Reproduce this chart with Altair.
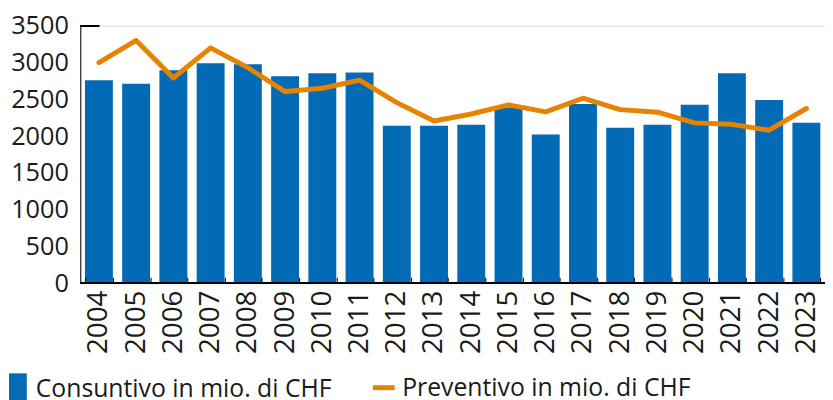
import altair as alt
import pandas as pd

anni = ["2004", "2005", "2006", "2007", "2008", "2009", "2010", "2011", "2012", "2013",
        "2014", "2015", "2016", "2017", "2018", "2019", "2020", "2021", "2022", "2023"]
consuntivo = [2760, 2710, 2895, 2990, 2975, 2815, 2855, 2865, 2140, 2140,
              2155, 2390, 2020, 2435, 2115, 2155, 2425, 2855, 2490, 2180]
preventivo = [3000, 3300, 2790, 3200, 2930, 2605, 2650, 2760, 2455, 2205,
              2300, 2425, 2330, 2515, 2360, 2325, 2180, 2160, 2080, 2375]
serie_bar = "Consuntivo in mio. di CHF"
serie_line = "Preventivo in mio. di CHF"
y_ticks = [0, 500, 1000, 1500, 2000, 2500, 3000, 3500]

BLUE = "#036ab5"
ORANGE = "#e68300"
TEXT = "#1a1a1a"
FONT = "Open Sans"

df = pd.DataFrame({
    "anno": anni,
    "consuntivo": consuntivo,
    "preventivo": preventivo,
    "s_bar": serie_bar,
    "s_line": serie_line,
})

xscale = alt.Scale(paddingInner=0.25, paddingOuter=0.125)
yscale = alt.Scale(domain=[0, 3500], nice=False, zero=True)

x_axis = alt.Axis(
    title=None, labelAngle=270, labelAlign="right", labelBaseline="middle",
    labelPadding=7, offset=-6, domain=False, ticks=True, tickBand="extent",
    tickSize=6, tickColor="black", tickWidth=1, labelFont=FONT, labelFontSize=28,
    labelColor=TEXT, zindex=1, labelOverlap=False, grid=False,
)
y_axis = alt.Axis(
    values=y_ticks, title=None, ticks=False, grid=False, domainColor="black",
    labelPadding=12, labelFont=FONT, labelFontSize=25.5, labelColor=TEXT,
    format="d", labelOverlap=False, zindex=1,
)

base = alt.Chart(df)

bars = base.mark_bar().encode(
    x=alt.X("anno:N", sort=anni, scale=xscale, axis=x_axis),
    y=alt.Y("consuntivo:Q", scale=yscale, axis=y_axis),
    fill=alt.Fill("s_bar:N", scale=alt.Scale(range=[BLUE]), legend=alt.Legend(
        orient="none", legendX=-79, legendY=351, title=None, padding=0,
        symbolType="M-0.56,-1H0.56V1H-0.56Z", symbolSize=1024,
        symbolStrokeWidth=0, labelFont=FONT, labelFontSize=25,
        labelColor=TEXT, labelOffset=2, labelLimit=0,
    )),
)

line = base.mark_line(strokeWidth=5, strokeJoin="round", strokeCap="round").encode(
    x=alt.X("anno:N", sort=anni, scale=xscale, axis=x_axis),
    y=alt.Y("preventivo:Q", scale=yscale, axis=y_axis),
    stroke=alt.Stroke("s_line:N", scale=alt.Scale(range=[ORANGE]), legend=alt.Legend(
        orient="none", legendX=293, legendY=352, title=None, padding=0,
        symbolType="stroke", symbolSize=484, symbolStrokeWidth=5,
        labelFont=FONT, labelFontSize=25, labelColor=TEXT, labelOffset=5,
        labelLimit=0,
    )),
)

baseline = base.mark_rule(color="black", strokeWidth=1).encode(
    y=alt.Y(datum=0, scale=yscale, axis=y_axis)
)
corner = base.mark_rule(color="black", strokeWidth=1).encode(
    y=alt.Y(datum=3500, scale=yscale, axis=y_axis), x=alt.value(0), x2=alt.value(19)
)

chart = alt.layer(bars, line, baseline, corner).properties(
    width=752, height=260,
    autosize=alt.AutoSizeParams(type="none"),
    padding={"left": 73, "top": 16, "right": 0, "bottom": 116},
).configure_view(strokeWidth=0, stroke="transparent").configure_axis(grid=False).configure(font=FONT)

chart.save("out.html", embed_options={"renderer": "svg", "actions": False})
